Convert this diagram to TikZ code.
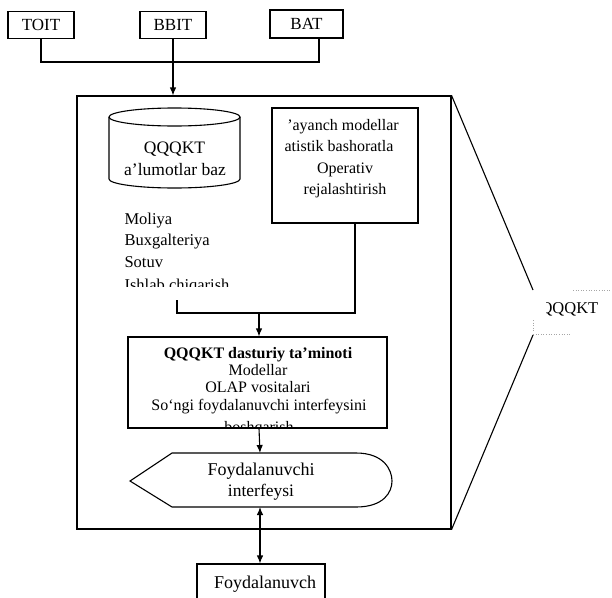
\documentclass[tikz,border=0pt]{standalone}
\usepackage{fontspec}
\setmainfont{Liberation Serif}
\usetikzlibrary{arrows.meta}
\newcommand{\fs}[1]{\fontsize{#1}{#1}\selectfont}
\begin{document}
\begin{tikzpicture}[x=1pt,y=-1pt,
  font=\fs{16},
  line width=1.1pt,
  box/.style={draw, line width=1.1pt, inner sep=0pt},
  txt/.style={inner sep=0pt, anchor=base},
  txtl/.style={inner sep=0pt, anchor=base west},
  arr/.style={-{Latex[length=8pt,width=6.5pt]}},
  darr/.style={{Latex[length=8pt,width=6.5pt]}-{Latex[length=8pt,width=6.5pt]}},
  frame/.style={draw=gray!70, dotted, line width=0.6pt}]
\useasboundingbox (0,0) rectangle (612,597);

% source systems
\node[box, font=\fs{17}, minimum width=66, minimum height=27] (toit) at (41,25) {TOIT};
\node[box, font=\fs{17}, minimum width=66, minimum height=27] (bbit) at (173,25) {BBIT};
\node[box, font=\fs{17}, minimum width=73, minimum height=28] (bat) at (306.5,24) {BAT};
\coordinate (bus) at (173,62);
\draw (toit.south) |- (bus) -| ([xshift=12.5pt]bat.south);

% enclosing system frame
\node[box, minimum width=374, minimum height=433] (main) at (264,312.5) {};
\draw[arr] (bbit.south) -- (bbit.south |- main.north);

% database cylinder
\draw (109,117) -- (109,179) arc[start angle=180, end angle=0, x radius=65.5, y radius=9] -- (240,117);
\draw (174.5,117) ellipse [x radius=65.5, y radius=9];
\node[txt, font=\fs{17.5}] (db1) at (174.5,153) {QQQKT};
\node[txt, font=\fs{17.5}] (db2) at (175,175) {a’lumotlar baz};

% models box
\node[box, minimum width=146, minimum height=115] (model) at (345,165.5) {};
\node[txt] (m1) at (343,130) {'ayanch modellar};
\node[txt] (m2) at (339,151) {atistik bashoratla};
\node[txt] (m3) at (345,173) {Operativ};
\node[txt] (m4) at (345,194) {rejalashtirish};

% data areas
\node[txtl, font=\fs{16.5}] (d1) at (124,224) {Moliya};
\node[txtl, font=\fs{16.5}] (d2) at (124,245) {Buxgalteriya};
\node[txtl, font=\fs{16.5}] (d3) at (124,267) {Sotuv};
\begin{scope}
  \clip (100,270) rectangle (260,286.5);
  \node[txtl, font=\fs{16.5}] (d4) at (124,290) {Ishlab chiqarish};
\end{scope}

% join into software box
\coordinate (listend) at (177,300);
\coordinate (join) at (259,313);
\draw ([xshift=10pt]model.south) |- (join) -| (listend);

% software box
\node[box, minimum width=259, minimum height=91] (soft) at (257.5,382.5) {};
\draw[arr] (join) -- (join |- soft.north);
\node[txt, font=\fs{16}\bfseries] (s1) at (258,358) {QQQKT dasturiy ta’minoti};
\node[txt] (s2) at (258,375) {Modellar};
\node[txt] (s3) at (258,392) {OLAP vositalari};
\node[txt] (s4) at (259,410) {So‘ngi foydalanuvchi interfeysini};
\begin{scope}
  \clip (130,410) rectangle (385,427.5);
  \node[txt] (s5) at (259,432) {boshqarish};
\end{scope}

% user interface display shape
\draw (130,481) -- (172,453) -- (356,453)
  .. controls (384,453) and (392,470) .. (392,481)
  .. controls (392,492) and (384,507) .. (356,507)
  -- (172,507) -- cycle;
\coordinate (uitop) at (260,453);
\coordinate (uibot) at (260,507);
\node[txt, font=\fs{18}] (ui1) at (261,475) {Foydalanuvchi};
\node[txt, font=\fs{17.5}] (ui2) at (261,496) {interfeysi};
\draw[arr] ([xshift=1.5pt]soft.south) -- (uitop);

% end user
\node[box, minimum width=128, minimum height=50] (user) at (261,589) {};
\node[txt, font=\fs{18}] (u1) at (265,588) {Foydalanuvch};
\draw[darr] (uibot) -- (user.north -| uibot);

% zoom-out callout
\coordinate (ctop) at (533,290);
\coordinate (cbot) at (533,335);
\draw (main.north east) -- (ctop);
\draw (cbot) -- (main.south east);
\begin{scope}
  \clip (546,290) rectangle (612,330);
  \node[txtl, font=\fs{16.5}] (lbl) at (540,313) {QQQKT};
\end{scope}
\draw[frame] (573,290) -- (612,290);
\draw[frame] (533,320) -- (533,332);
\draw[frame] (533,334) -- (570,334);
\end{tikzpicture}
\end{document}
